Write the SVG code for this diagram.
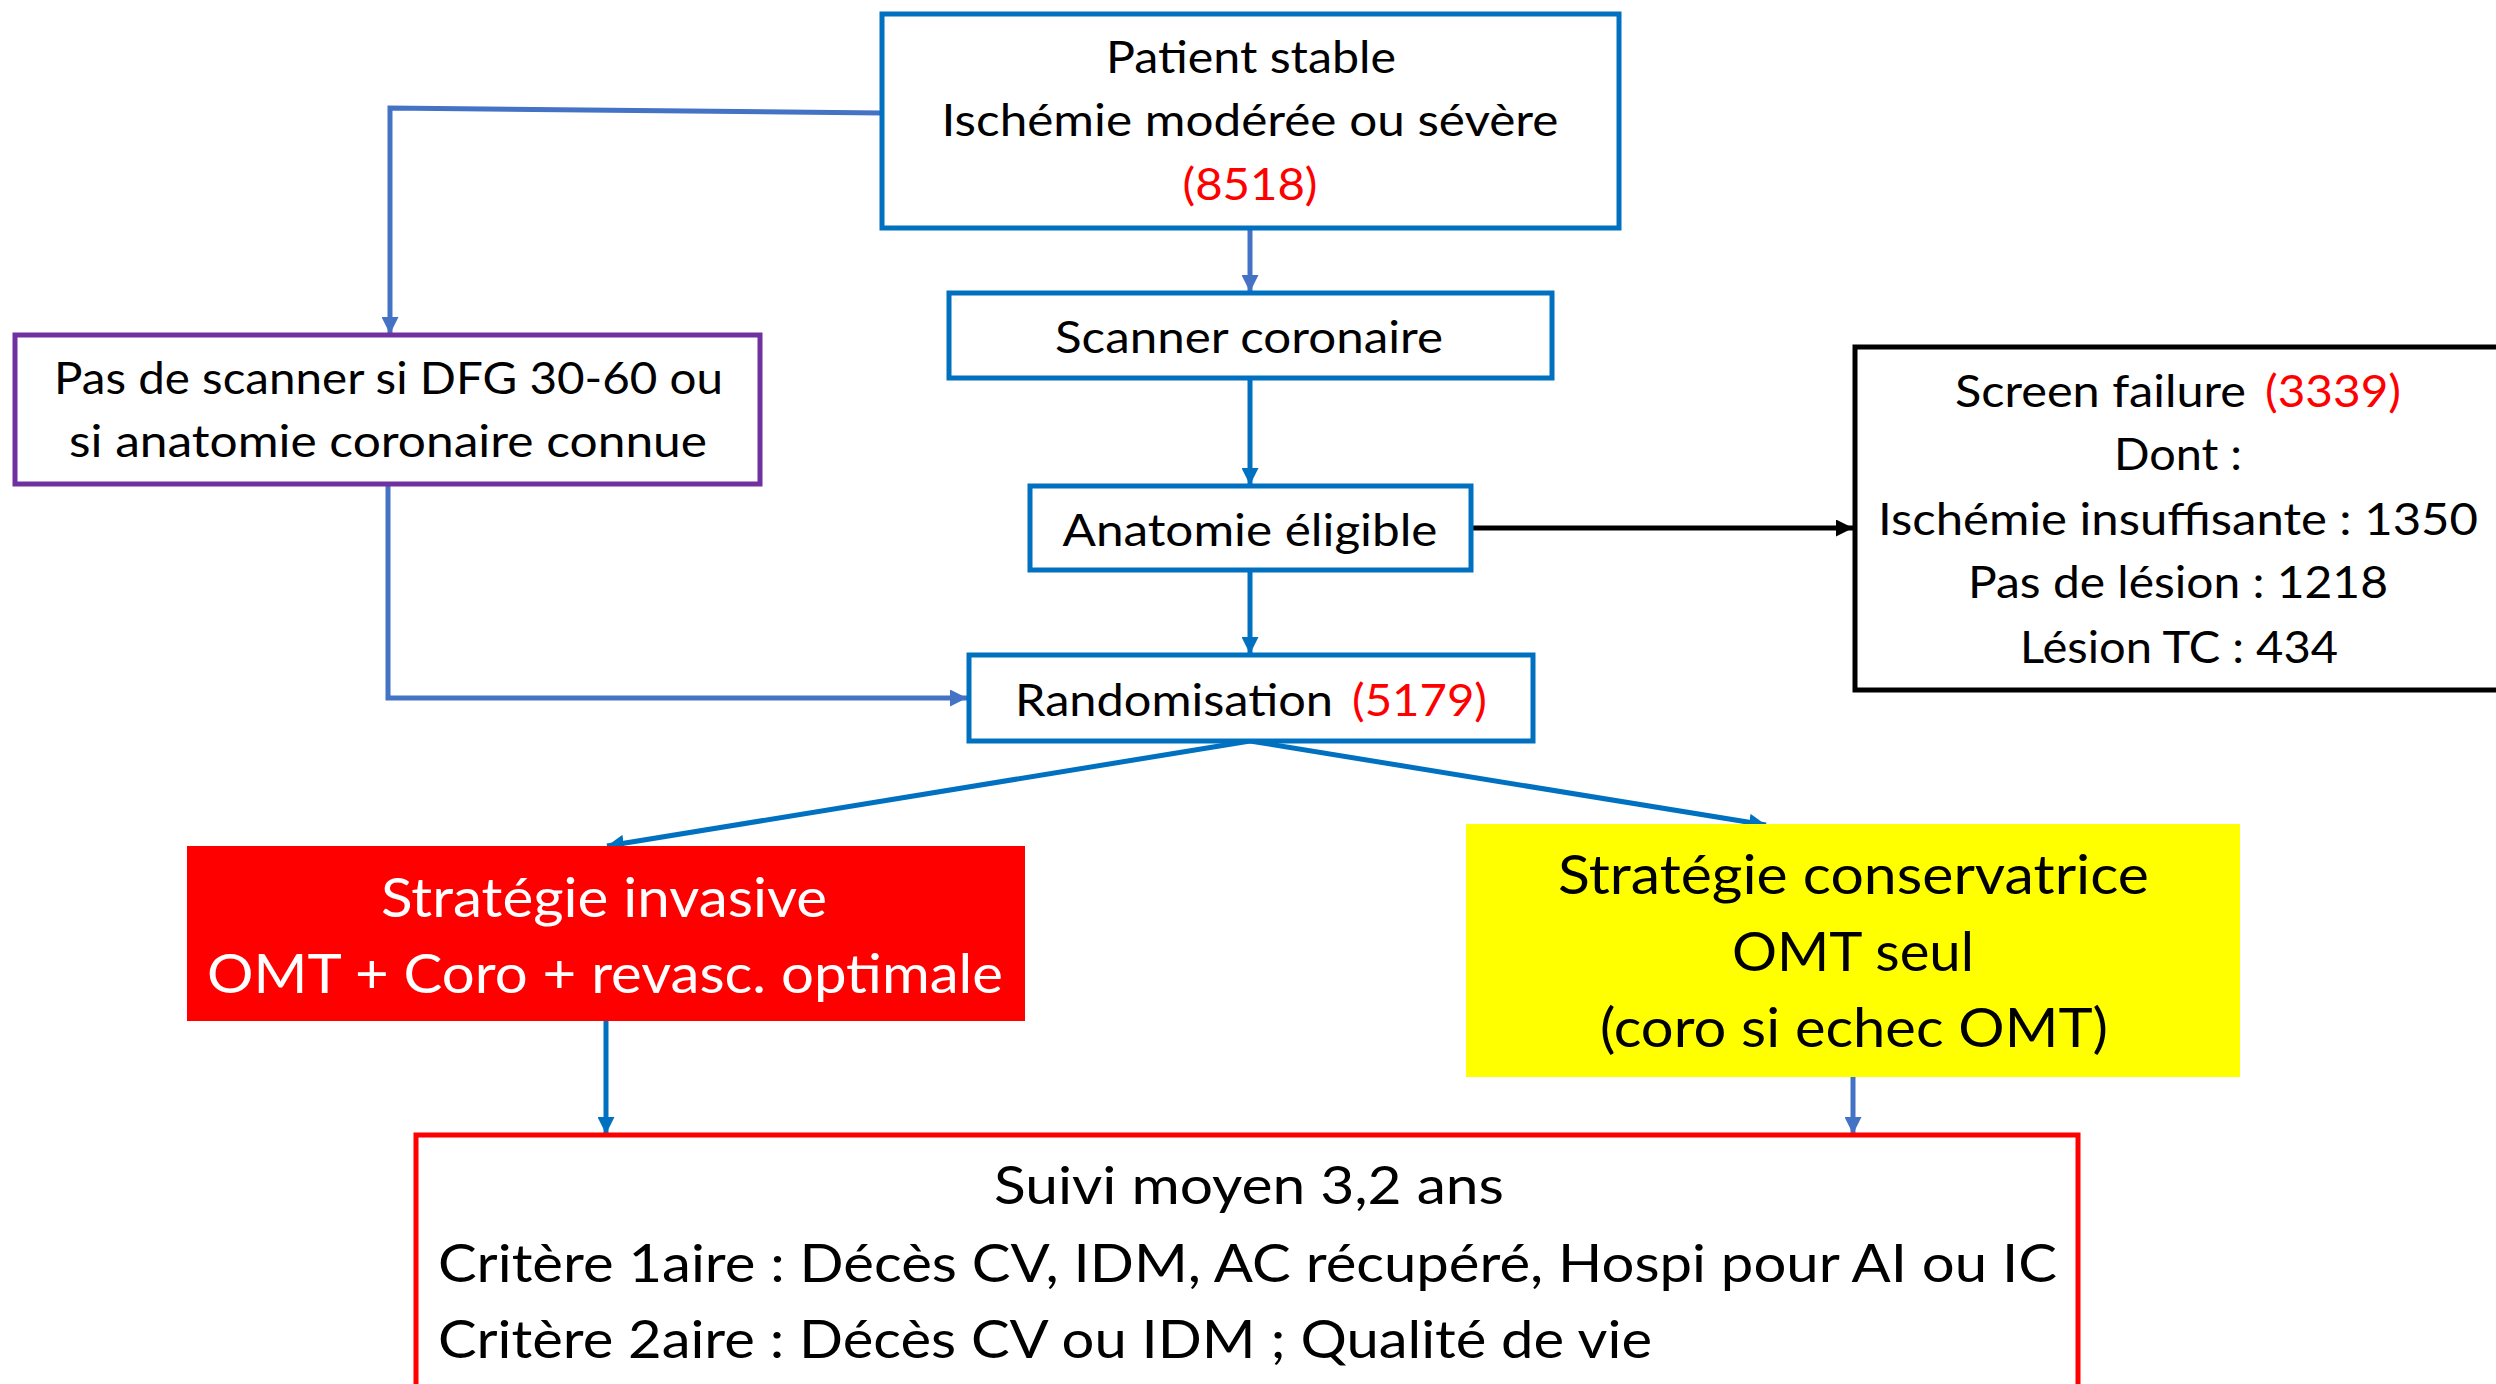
<svg xmlns="http://www.w3.org/2000/svg" width="2496" height="1384" viewBox="0 0 2496 1384">
<style>
  text { font-family: Lato, "Liberation Sans", sans-serif; fill: #000; }
  .s { font-size: 44px; }
  .b { font-size: 55px; }
  .m { font-size: 52px; }
  .c { text-anchor: middle; }
  .red { fill: #FF0000; }
  .w { fill: #FFFFFF; }
  .box { fill: #FFFFFF; stroke: #0070C0; stroke-width: 5; }
  .c1 { fill: none; stroke: #4472C4; stroke-width: 5; }
  .c2 { fill: none; stroke: #0070C0; stroke-width: 5; }
  .ck { fill: none; stroke: #000000; stroke-width: 5; }
</style>
<defs>
  <marker id="a1" markerUnits="userSpaceOnUse" markerWidth="17" markerHeight="17" refX="17" refY="8.5" orient="auto">
    <path d="M0,0 L17,8.5 L0,17 Z" fill="#4472C4"/>
  </marker>
  <marker id="a2" markerUnits="userSpaceOnUse" markerWidth="17" markerHeight="17" refX="17" refY="8.5" orient="auto">
    <path d="M0,0 L17,8.5 L0,17 Z" fill="#0070C0"/>
  </marker>
  <marker id="ak" markerUnits="userSpaceOnUse" markerWidth="17" markerHeight="17" refX="17" refY="8.5" orient="auto">
    <path d="M0,0 L17,8.5 L0,17 Z" fill="#000000"/>
  </marker>
</defs>
<rect width="2496" height="1384" fill="#FFFFFF"/>

<g id="connectors">
  <path class="c1" d="M882,113 L390,108 L390,334" marker-end="url(#a1)"/>
  <path class="c1" d="M1250,228 L1250,292" marker-end="url(#a1)"/>
  <path class="c2" d="M1250,378 L1250,485" marker-end="url(#a2)"/>
  <path class="c2" d="M1250,570 L1250,654" marker-end="url(#a2)"/>
  <path class="ck" d="M1471,528 L1853,528" marker-end="url(#ak)"/>
  <path class="c1" d="M388,484 L388,698 L967,698" marker-end="url(#a1)"/>
  <path class="c2" d="M1250,741 L607,846" marker-end="url(#a2)"/>
  <path class="c2" d="M1250,741 L1766,825" marker-end="url(#a2)"/>
  <path class="c2" d="M606,1021 L606,1134" marker-end="url(#a2)"/>
  <path class="c1" d="M1853,1077 L1853,1134" marker-end="url(#a1)"/>
</g>

<g id="patient-stable">
  <rect class="box" x="882" y="14" width="737" height="214"/>
  <text class="s c" x="1251" y="73" textLength="290" lengthAdjust="spacingAndGlyphs">Patient stable</text>
  <text class="s c" x="1250" y="136" textLength="617" lengthAdjust="spacingAndGlyphs">Ischémie modérée ou sévère</text>
  <text class="s c red" x="1250" y="200" textLength="135" lengthAdjust="spacingAndGlyphs">(8518)</text>
</g>

<g id="scanner">
  <rect class="box" x="949" y="293" width="603" height="85"/>
  <text class="s c" x="1249" y="353" textLength="388" lengthAdjust="spacingAndGlyphs">Scanner coronaire</text>
</g>

<g id="anatomie">
  <rect class="box" x="1030" y="486" width="441" height="84"/>
  <text class="s c" x="1250" y="546" textLength="375" lengthAdjust="spacingAndGlyphs">Anatomie éligible</text>
</g>

<g id="randomisation">
  <rect class="box" x="969" y="655" width="564" height="86"/>
  <text class="s" x="1015" y="716" textLength="318" lengthAdjust="spacingAndGlyphs">Randomisation</text>
  <text class="s red" x="1352" y="716" textLength="135" lengthAdjust="spacingAndGlyphs">(5179)</text>
</g>

<g id="pas-de-scanner">
  <rect x="15" y="335" width="745" height="149" fill="#FFFFFF" stroke="#7030A0" stroke-width="5"/>
  <text class="s" x="54" y="394" textLength="669" lengthAdjust="spacingAndGlyphs">Pas de scanner si DFG 30-60 ou</text>
  <text class="s" x="69" y="457" textLength="638" lengthAdjust="spacingAndGlyphs">si anatomie coronaire connue</text>
</g>

<g id="screen-failure">
  <rect x="1855" y="347" width="700" height="343" fill="#FFFFFF" stroke="#000000" stroke-width="5"/>
  <text class="s" x="1955" y="407" textLength="291" lengthAdjust="spacingAndGlyphs">Screen failure</text>
  <text class="s red" x="2265" y="407" textLength="136" lengthAdjust="spacingAndGlyphs">(3339)</text>
  <text class="s" x="2114" y="470" textLength="128" lengthAdjust="spacingAndGlyphs">Dont :</text>
  <text class="s" x="1878" y="535" textLength="600" lengthAdjust="spacingAndGlyphs">Ischémie insuffisante : 1350</text>
  <text class="s" x="1968" y="598" textLength="420" lengthAdjust="spacingAndGlyphs">Pas de lésion : 1218</text>
  <text class="s" x="2020" y="663" textLength="318" lengthAdjust="spacingAndGlyphs">Lésion TC : 434</text>
</g>

<g id="strategie-invasive">
  <rect x="187" y="846" width="838" height="175" fill="#FF0000"/>
  <text class="b w" x="381" y="917" textLength="446" lengthAdjust="spacingAndGlyphs">Stratégie invasive</text>
  <text class="b w" x="207" y="993" textLength="796" lengthAdjust="spacingAndGlyphs">OMT + Coro + revasc. optimale</text>
</g>

<g id="strategie-conservatrice">
  <rect x="1466" y="824" width="774" height="253" fill="#FFFF00"/>
  <text class="b" x="1558" y="894" textLength="591" lengthAdjust="spacingAndGlyphs">Stratégie conservatrice</text>
  <text class="b" x="1732" y="971" textLength="242" lengthAdjust="spacingAndGlyphs">OMT seul</text>
  <text class="b" x="1600" y="1047" textLength="508" lengthAdjust="spacingAndGlyphs">(coro si echec OMT)</text>
</g>

<g id="suivi">
  <rect x="416" y="1135" width="1662" height="320" fill="#FFFFFF" stroke="#FF0000" stroke-width="5"/>
  <text class="m" x="994" y="1204" textLength="510" lengthAdjust="spacingAndGlyphs">Suivi moyen 3,2 ans</text>
  <text class="m" x="438" y="1282" textLength="1619" lengthAdjust="spacingAndGlyphs">Critère 1aire : Décès CV, IDM, AC récupéré, Hospi pour AI ou IC</text>
  <text class="m" x="438" y="1358" textLength="1214" lengthAdjust="spacingAndGlyphs">Critère 2aire : Décès CV ou IDM ; Qualité de vie</text>
</g>
</svg>
